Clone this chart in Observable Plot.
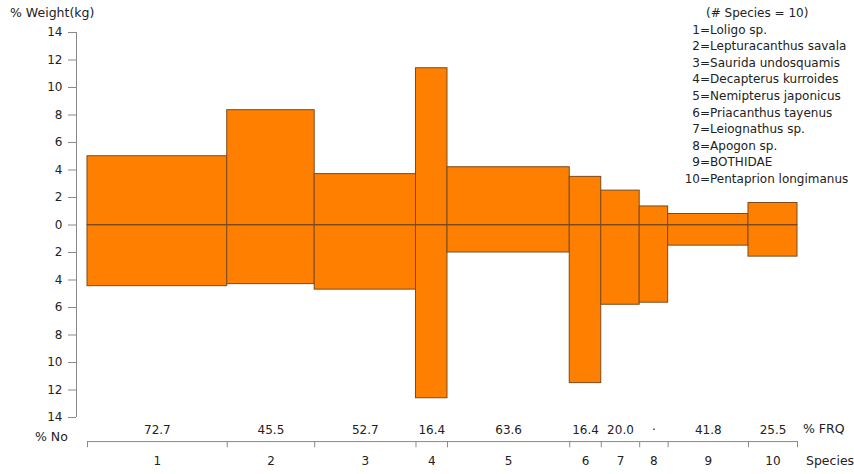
<!DOCTYPE html>
<html>
<head>
<meta charset="utf-8">
<script src="https://cdn.jsdelivr.net/npm/d3@7"></script>
<script src="https://cdn.jsdelivr.net/npm/@observablehq/plot@0.6"></script>
<style>
  html, body { margin: 0; padding: 0; background: #fff; }
  #wrap { position: relative; width: 854px; height: 474px; font-family: "DejaVu Sans", sans-serif; color: #222; }
  .lbl { position: absolute; font-size: 12.5px; white-space: nowrap; line-height: 16px; }
  #legend { position: absolute; left: 668px; top: 5px; font-size: 12px; line-height: 16.6px; white-space: nowrap; }
  #legend .row span.n { display: inline-block; width: 32px; text-align: right; }
</style>
</head>
<body>
<div id="wrap">
  <div id="chart"></div>
  <div class="lbl" style="left:10px; top:5px;">% Weight(kg)</div>
  <div class="lbl" style="left:35px; top:429px;">% No</div>
  <div class="lbl" style="left:803px; top:421px;">% FRQ</div>
  <div class="lbl" style="left:806px; top:453px;">Species</div>
  <div id="legend"></div>
</div>
<script>
// ---- data ----
const species = [1, 2, 3, 4, 5, 6, 7, 8, 9, 10];
const speciesNames = [
  "Loligo sp.", "Lepturacanthus savala", "Saurida undosquamis", "Decapterus kurroides",
  "Nemipterus japonicus", "Priacanthus tayenus", "Leiognathus sp.", "Apogon sp.",
  "BOTHIDAE", "Pentaprion longimanus"
];
const frq = [72.7, 45.5, 52.7, 16.4, 63.6, 16.4, 20.0, 14.8, 41.8, 25.5];
const frqLabels = ["72.7", "45.5", "52.7", "16.4", "63.6", "16.4", "20.0", "·", "41.8", "25.5"];
const pctWeight = [5.0, 8.35, 3.7, 11.4, 4.2, 3.5, 2.5, 1.35, 0.8, 1.6];
const pctNumber = [4.45, 4.3, 4.7, 12.6, 2.0, 11.5, 5.8, 5.65, 1.5, 2.3];
const yTicks = [-14, -12, -10, -8, -6, -4, -2, 0, 2, 4, 6, 8, 10, 12, 14];
const legendTitle = "(# Species = 10)";

// ---- build table ----
let acc = 0;
const rows = species.map((s, i) => {
  const r = { s, x0: acc, x1: acc + frq[i], mid: acc + frq[i] / 2, w: pctWeight[i], n: -pctNumber[i], lab: frqLabels[i] };
  acc += frq[i];
  return r;
});
const total = acc;
const bounds = [0, ...rows.map(r => r.x1)];

const ORANGE = "#ff8000";
const EDGE = "#7b4a1c";
const AXIS = "#8a8a8a";

const chart = Plot.plot({
  width: 854,
  height: 474,
  marginLeft: 76,
  marginRight: 57,
  marginTop: 32,
  marginBottom: 57,
  style: { fontFamily: "DejaVu Sans, sans-serif", fontSize: "12px", background: "#fff", color: "#222" },
  x: { domain: [0, total], insetLeft: 11, axis: null },
  y: { domain: [-14, 14], axis: null },
  marks: [
    Plot.rect(rows, { x1: "x0", x2: "x1", y1: 0, y2: "w", fill: ORANGE, stroke: EDGE, strokeWidth: 1 }),
    Plot.rect(rows, { x1: "x0", x2: "x1", y1: 0, y2: "n", fill: ORANGE, stroke: EDGE, strokeWidth: 1 }),
    Plot.ruleY([0], { x1: 0, x2: total, stroke: EDGE, strokeOpacity: 0.85 }),
    // left axis
    Plot.ruleX([0], { y1: -14, y2: 14, dx: -11, stroke: AXIS }),
    Plot.axisY(yTicks, { tickFormat: d => Math.abs(d), tickSize: 8, tickPadding: 6, stroke: AXIS, fill: "#222", label: null, fontSize: 12 }),
    // bottom species axis
    Plot.ruleY([-15.75], { x1: 0, x2: total, stroke: AXIS }),
    Plot.ruleX(bounds, { y1: -15.75, y2: -16.2, stroke: AXIS }),
    Plot.text(rows, { x: "mid", y: -14, dy: 12.5, text: "lab", fill: "#222", fontSize: 12 }),
    Plot.text(rows, { x: "mid", y: -14, dy: 44, text: d => String(d.s), fill: "#222", fontSize: 12 })
  ]
});
document.getElementById("chart").appendChild(chart);

// legend
const lg = document.getElementById("legend");
const t = document.createElement("div");
t.style.paddingLeft = "38px";
t.textContent = legendTitle;
lg.appendChild(t);
species.forEach((s, i) => {
  const d = document.createElement("div");
  d.className = "row";
  const n = document.createElement("span");
  n.className = "n";
  n.textContent = s;
  d.appendChild(n);
  d.appendChild(document.createTextNode("=" + speciesNames[i]));
  lg.appendChild(d);
});
</script>
</body>
</html>
